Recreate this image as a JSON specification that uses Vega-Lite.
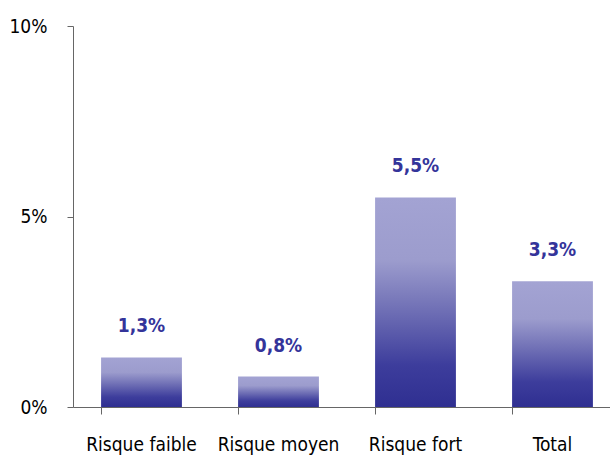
{
  "$schema": "https://vega.github.io/schema/vega-lite/v6.json",
  "width": 537,
  "height": 381,
  "autosize": {"type": "none"},
  "padding": {"left": 73, "top": 26, "right": 0, "bottom": 52},
  "background": "white",
  "config": {
    "view": {"stroke": null},
    "font": "DejaVu Sans Condensed, Liberation Sans, sans-serif",
    "locale": {
      "number": {"decimal": ",", "thousands": " ", "grouping": [3], "currency": ["", " €"]}
    },
    "axis": {
      "domainColor": "#666666",
      "tickColor": "#666666",
      "domainWidth": 1,
      "tickWidth": 1,
      "grid": false,
      "labelColor": "#000000",
      "labelFont": "DejaVu Sans Condensed, Liberation Sans, sans-serif",
      "labelFontSize": 19,
      "title": null
    }
  },
  "data": {
    "values": [
      {"categorie": "Risque faible", "taux": 0.013},
      {"categorie": "Risque moyen", "taux": 0.008},
      {"categorie": "Risque fort", "taux": 0.055},
      {"categorie": "Total", "taux": 0.033}
    ]
  },
  "layer": [
    {
      "mark": {
        "type": "bar",
        "color": {
          "gradient": "linear",
          "x1": 0, "y1": 0, "x2": 0, "y2": 1,
          "stops": [
            {"offset": 0, "color": "#a3a3d3"},
            {"offset": 0.3, "color": "#9c9ccd"},
            {"offset": 0.55, "color": "#6d6db4"},
            {"offset": 0.8, "color": "#3d3d9c"},
            {"offset": 1, "color": "#2f2f91"}
          ]
        }
      },
      "encoding": {
        "x": {
          "field": "categorie",
          "type": "nominal",
          "sort": null,
          "scale": {"type": "band", "range": [0, 548], "paddingInner": 0.41, "paddingOuter": 0.205},
          "axis": {"labelAngle": 0, "ticks": false, "labelPadding": 28, "domain": true}
        },
        "y": {
          "field": "taux",
          "type": "quantitative",
          "scale": {"domain": [0, 0.1], "nice": false},
          "axis": {"values": [0, 0.05, 0.1], "format": ".0%", "tickSize": 6, "labelPadding": 20}
        }
      }
    },
    {
      "mark": {"type": "text", "fontWeight": "bold", "fontSize": 19, "color": "#34349a", "baseline": "middle", "dy": -31},
      "encoding": {
        "x": {
          "field": "categorie",
          "type": "nominal",
          "sort": null,
          "scale": {"type": "band", "range": [0, 548], "paddingInner": 0.41, "paddingOuter": 0.205},
          "axis": {"orient": "bottom", "labels": false, "domain": false, "ticks": true, "tickSize": 7, "bandPosition": 0}
        },
        "y": {"field": "taux", "type": "quantitative"},
        "text": {"field": "taux", "type": "quantitative", "format": ".1%"}
      }
    }
  ],
  "resolve": {"scale": {"x": "independent"}, "axis": {"x": "independent"}}
}
